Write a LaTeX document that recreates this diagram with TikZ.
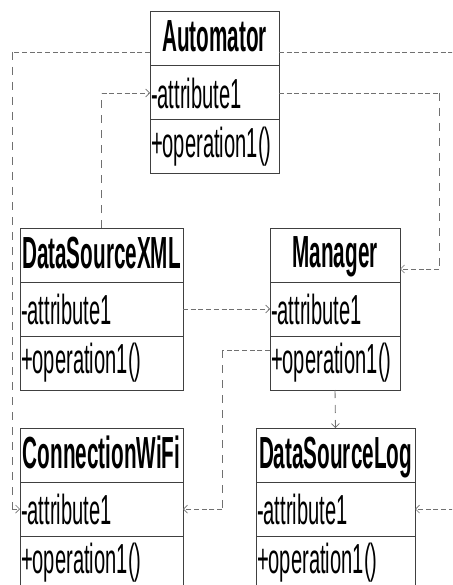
\documentclass[tikz,border=0pt]{standalone}
\usepackage{fontspec}
\setmainfont{Liberation Sans}[FakeStretch=0.48]
\newfontfamily\hdrfont{Liberation Sans}[FakeStretch=0.46]
\usetikzlibrary{arrows.meta,calc}
\definecolor{boxline}{HTML}{404040}
\definecolor{depline}{HTML}{707070}
\begin{document}
\begin{tikzpicture}[x=1pt,y=-1pt,
  sect/.style={draw=boxline, line width=1pt, minimum height=54pt, inner xsep=1pt, inner ysep=0pt, outer sep=0pt, font=\fontsize{42}{46}\selectfont},
  hdr/.style={sect, align=center, text depth=5pt, font=\hdrfont\fontsize{45}{50}\selectfont\bfseries},
  attr/.style={sect, align=left},
  dep/.style={draw=depline, line width=0.9pt},
  hd/.style={dep, dash pattern=on 5pt off 2.7pt},
  vd/.style={dep, dash pattern=on 8pt off 7pt},
  arr/.style={-{Straight Barb[length=4pt,width=8pt,line width=0.7pt]}}
]
\useasboundingbox (0,0) rectangle (452,585);
\clip (0,0) rectangle (452,585);
\fill[white] (0,0) rectangle (452,585);

% Automator
\node[hdr, text width=127pt, anchor=north west] (A) at (150,12) {Automator};
\node[attr, text width=127pt, anchor=north] (Aa) at (A.south) {-attribute1};
\node[attr, text width=127pt, anchor=north] (Ao) at (Aa.south) {+operation1()};

% DataSourceXML
\node[hdr, text width=161pt, anchor=north west] (X) at (20,228) {DataSourceXML};
\node[attr, text width=161pt, anchor=north] (Xa) at (X.south) {-attribute1};
\node[attr, text width=161pt, anchor=north] (Xo) at (Xa.south) {+operation1()};

% Manager
\node[hdr, text width=128pt, anchor=north west] (M) at (270,228) {Manager};
\node[attr, text width=128pt, anchor=north] (Ma) at (M.south) {-attribute1};
\node[attr, text width=128pt, anchor=north] (Mo) at (Ma.south) {+operation1()};

% ConnectionWiFi
\node[hdr, text width=161pt, anchor=north west] (C) at (20,428) {ConnectionWiFi};
\node[attr, text width=161pt, anchor=north] (Ca) at (C.south) {-attribute1};
\node[attr, text width=161pt, anchor=north] (Co) at (Ca.south) {+operation1()};

% DataSourceLog
\node[hdr, text width=157pt, anchor=north west] (L) at (256,428) {DataSourceLog};
\node[attr, text width=157pt, anchor=north] (La) at (L.south) {-attribute1};
\node[attr, text width=157pt, anchor=north] (Lo) at (La.south) {+operation1()};

% connector corner points
\coordinate (aw) at ([yshift=-13pt]A.west);
\coordinate (ae) at ([yshift=-13pt]A.east);
\coordinate (k1) at ([xshift=-138pt]aw);
\coordinate (k2) at (k1 |- Ca.west);
\coordinate (k3) at ([xshift=190pt]ae);
\coordinate (k4) at (k3 |- La.east);
\coordinate (k5) at (X.north |- Aa.west);
\coordinate (k6) at ([xshift=160pt]Aa.east);
\coordinate (m1) at ([yshift=-14pt]M.east);
\coordinate (k7) at (k6 |- m1);
\coordinate (m2) at ([yshift=13pt]Mo.west);
\coordinate (k8) at ([xshift=-48pt]m2);
\coordinate (k9) at (k8 |- Ca.east);

% Automator -> ConnectionWiFi
\draw[hd] (aw) -- (k1);
\draw[vd] (k1) -- (k2);
\draw[hd,arr] (k2) -- (Ca.west);
% Automator -> DataSourceLog
\draw[hd] (ae) -- (k3);
\draw[vd] (k3) -- (k4);
\draw[hd,arr] (k4) -- (La.east);
% DataSourceXML -> Automator
\draw[vd] (X.north) -- (k5);
\draw[hd,arr] (k5) -- (Aa.west);
% Automator -> Manager
\draw[hd] (Aa.east) -- (k6);
\draw[vd] (k6) -- (k7);
\draw[hd,arr] (k7) -- (m1);
% DataSourceXML -> Manager
\draw[hd,arr] (Xa.east) -- (Ma.west);
% Manager -> ConnectionWiFi
\draw[hd] (m2) -- (k8);
\draw[vd] (k8) -- (k9);
\draw[hd,arr] (k9) -- (Ca.east);
% Manager -> DataSourceLog
\draw[vd,arr] (Mo.south) -- (L.north);
\end{tikzpicture}
\end{document}
